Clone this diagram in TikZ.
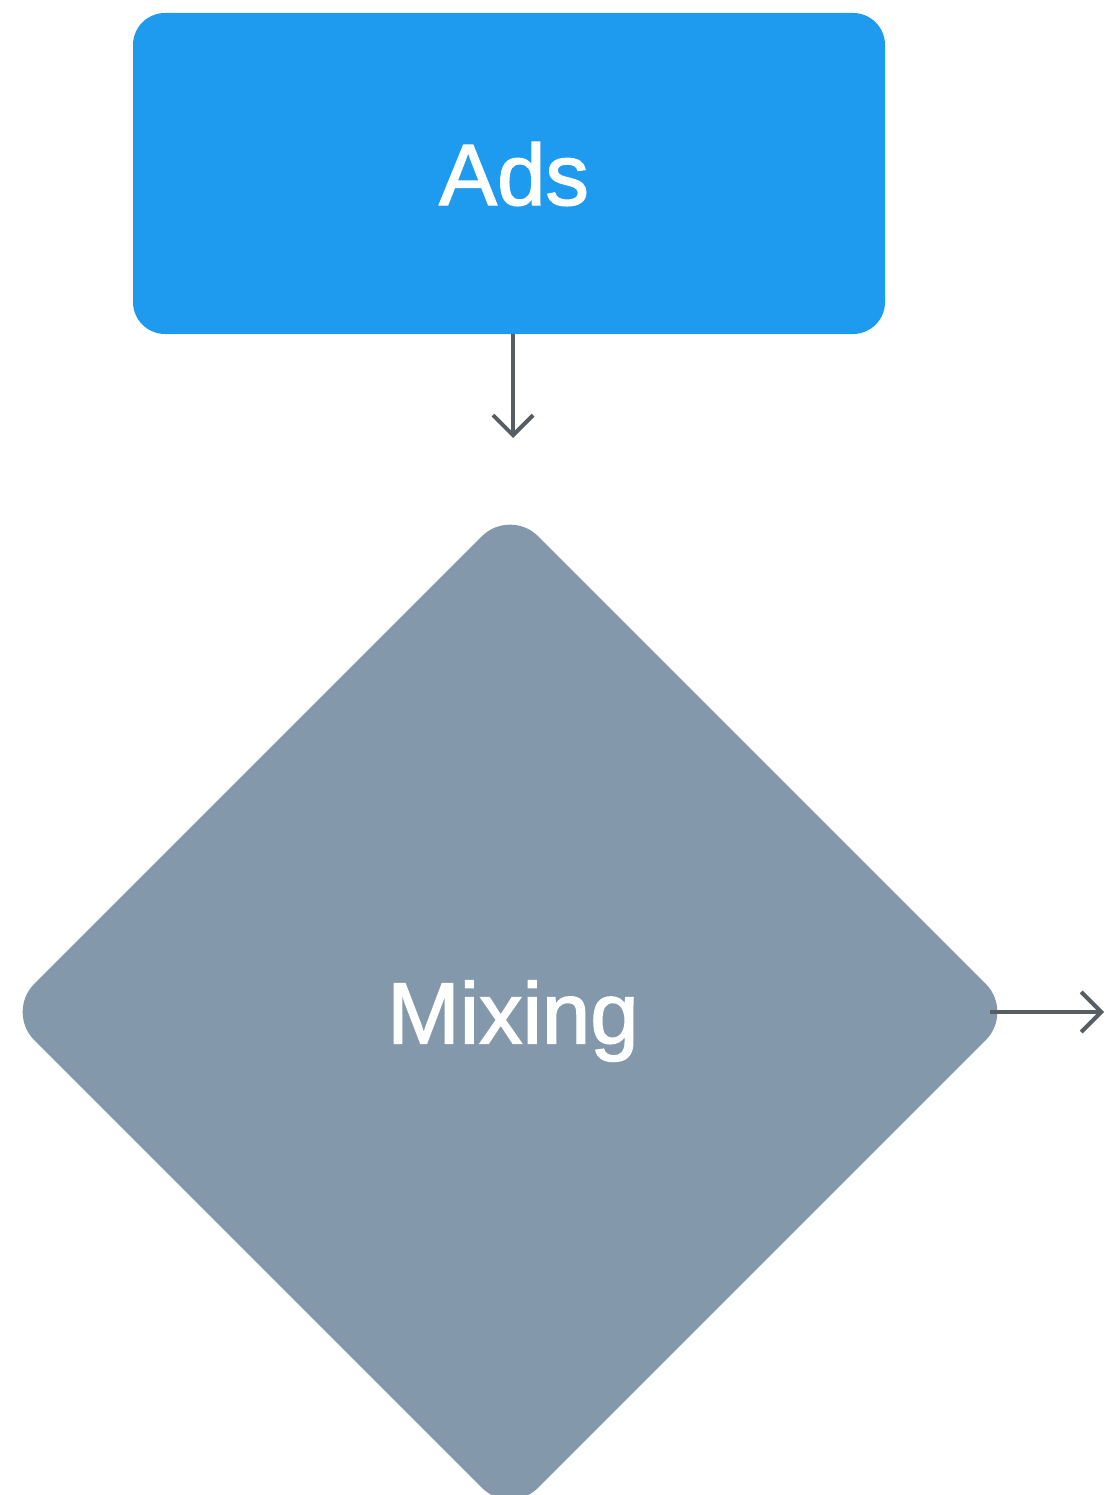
\documentclass[tikz,border=0pt]{standalone}
\usepackage{fontspec}
\setmainfont{Liberation Sans}
\newfontfamily\lblfont[FakeBold=1.6]{Liberation Sans}
\usetikzlibrary{shapes.geometric,arrows.meta}
\definecolor{adsblue}{HTML}{1E9BEF}
\definecolor{mixgray}{HTML}{8399AB}
\definecolor{arrgray}{HTML}{565E64}
\begin{document}
\begin{tikzpicture}[x=1pt,y=-1pt,
  lbl/.style={text=white,font=\lblfont\fontsize{87}{100}\selectfont,text depth=0pt},
  adsbox/.style={lbl,draw=none,fill=adsblue,rounded corners=32pt,minimum width=752pt,minimum height=321pt,inner sep=0pt},
  mixbox/.style={lbl,diamond,draw=none,fill=mixgray,rounded corners=40pt,minimum width=1008pt,minimum height=1008pt,inner sep=0pt},
  conn/.style={draw=arrgray,line width=3.5pt,-{Straight Barb[length=20pt,width=40pt,line width=4pt]}}]
\useasboundingbox (0,0) rectangle (1105,1495);
\node[adsbox] (ads) at (509,173.5) {\hspace*{10pt}Ads};
\node[mixbox] (mix) at (510,1012) {\hspace*{6pt}Mixing};
\coordinate (a1end) at (513,438);
\coordinate (a2end) at (1104,1012);
\draw[conn] (ads.south -| a1end) -- (a1end);
\draw[conn] (mix.east) ++(-24,0) -- (a2end);
\end{tikzpicture}
\end{document}
